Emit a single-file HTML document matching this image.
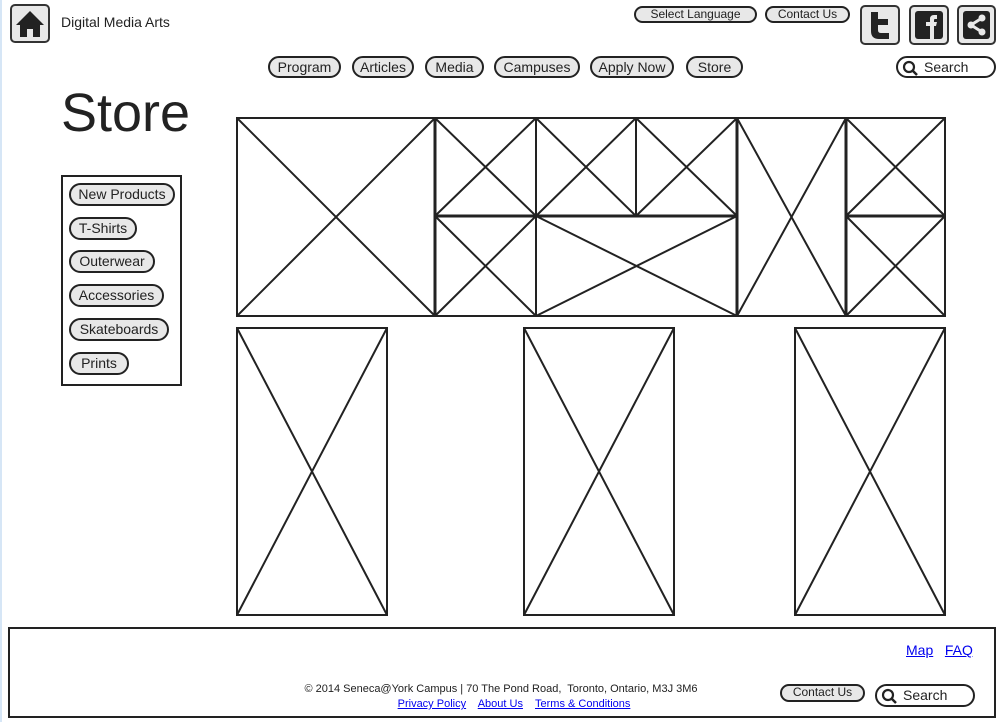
<!DOCTYPE html>
<html><head><style>
body{margin:0;width:1004px;height:722px;background:#fff;position:relative;overflow:hidden;font-family:"Liberation Sans",sans-serif;color:#222}
.a{position:absolute;box-sizing:border-box}
.p{position:absolute;box-sizing:border-box;border:2px solid #222;background:#e8e8e8;border-radius:12px;font-size:14px;text-align:center;line-height:19px;color:#222}
.s{font-size:12px;line-height:13px;border-radius:9px}
.ic{position:absolute;box-sizing:border-box;border:2px solid #333;border-radius:5px;background:#e8e8e8}
a{color:#00e;text-decoration:underline}
</style></head><body>
<div class="a" style="left:0;top:0;width:2px;height:722px;background:#d6e6f6"></div>
<div class="ic" style="left:10px;top:4px;width:40px;height:39px">
<svg width="36" height="35" viewBox="0 0 36 35"><path d="M18 5 L4 19 H8 V31 H15 V23 H21 V31 H28 V19 H32 Z" fill="#222"/></svg></div>
<div class="a" style="left:61px;top:14px;font-size:14px">Digital Media Arts</div>
<div class="p s" style="left:634px;top:6px;width:123px;height:17px">Select Language</div>
<div class="p s" style="left:765px;top:6px;width:85px;height:17px">Contact Us</div>
<div class="ic" style="left:860px;top:5px;width:40px;height:40px"><svg width="36" height="36"><path d="M9 5 H16 V12 H26 V18 H16 V23 Q16 26 19 26 H27 V32 H17 Q9 32 9 24 Z" fill="#222"/></svg></div>
<div class="ic" style="left:909px;top:5px;width:40px;height:40px"><svg width="36" height="36"><rect x="4" y="4" width="28" height="28" rx="3" fill="#222"/><path d="M19 32 V19 H15 V15 H19 V12 Q19 8 23 8 H26 V12 H24 Q23 12 23 13 V15 H26 L25 19 H23 V32 Z" fill="#e8e8e8"/></svg></div>
<div class="ic" style="left:957px;top:5px;width:39px;height:40px"><svg width="35" height="36"><rect x="4" y="4" width="27" height="28" rx="3" fill="#222"/><path d="M23 11 L12 18 L23 25" stroke="#e8e8e8" stroke-width="3" fill="none"/><circle cx="23" cy="11" r="3.5" fill="#e8e8e8"/><circle cx="12" cy="18" r="3.5" fill="#e8e8e8"/><circle cx="23" cy="25" r="3.5" fill="#e8e8e8"/></svg></div>
<div class="p" style="left:268px;top:56px;width:73px;height:22px">Program</div>
<div class="p" style="left:352px;top:56px;width:62px;height:22px">Articles</div>
<div class="p" style="left:425px;top:56px;width:59px;height:22px">Media</div>
<div class="p" style="left:494px;top:56px;width:86px;height:22px">Campuses</div>
<div class="p" style="left:590px;top:56px;width:84px;height:22px">Apply Now</div>
<div class="p" style="left:686px;top:56px;width:57px;height:22px">Store</div>
<div class="p" style="left:896px;top:56px;width:100px;height:22px;background:#fff;text-align:left;padding-left:26px">Search
<svg style="position:absolute;left:4px;top:2px" width="16" height="16"><circle cx="7" cy="7" r="5" stroke="#222" stroke-width="2.2" fill="none"/><path d="M10.5 10.5 L15 15" stroke="#222" stroke-width="2.5"/></svg></div>
<div class="a" style="left:61px;top:82px;font-size:54px;line-height:62px">Store</div>
<div class="a" style="left:61px;top:175px;width:121px;height:211px;border:2px solid #222"></div>
<div class="p" style="left:69px;top:183px;width:106px;height:23px">New Products</div>
<div class="p" style="left:69px;top:217px;width:68px;height:23px">T-Shirts</div>
<div class="p" style="left:69px;top:250px;width:86px;height:23px">Outerwear</div>
<div class="p" style="left:69px;top:284px;width:95px;height:23px">Accessories</div>
<div class="p" style="left:69px;top:318px;width:100px;height:23px">Skateboards</div>
<div class="p" style="left:69px;top:352px;width:60px;height:23px">Prints</div>
<svg class="a" style="left:0;top:0" width="1004" height="722">
<g stroke="#222" fill="none" stroke-width="2">
<rect x="237" y="118" width="198" height="198"/><path d="M237 118 L435 316 M435 118 L237 316"/>
<rect x="435" y="118" width="101" height="98"/><path d="M435 118 L536 216 M536 118 L435 216"/>
<rect x="536" y="118" width="100" height="98"/><path d="M536 118 L636 216 M636 118 L536 216"/>
<rect x="636" y="118" width="101" height="98"/><path d="M636 118 L737 216 M737 118 L636 216"/>
<rect x="435" y="216" width="101" height="100"/><path d="M435 216 L536 316 M536 216 L435 316"/>
<rect x="536" y="216" width="201" height="100"/><path d="M536 216 L737 316 M737 216 L536 316"/>
<rect x="737" y="118" width="109" height="198"/><path d="M737 118 L846 316 M846 118 L737 316"/>
<rect x="846" y="118" width="99" height="98"/><path d="M846 118 L945 216 M945 118 L846 216"/>
<rect x="846" y="216" width="99" height="100"/><path d="M846 216 L945 316 M945 216 L846 316"/>
<rect x="237" y="328" width="150" height="287"/><path d="M237 328 L387 615 M387 328 L237 615"/>
<rect x="524" y="328" width="150" height="287"/><path d="M524 328 L674 615 M674 328 L524 615"/>
<rect x="795" y="328" width="150" height="287"/><path d="M795 328 L945 615 M945 328 L795 615"/>
</g>
<g stroke="#222" stroke-width="3"><path d="M435 118 V316 M737 118 V316 M846 118 V316 M435 216 H737 M846 216 H945"/></g>
</svg>
<div class="a" style="left:8px;top:627px;width:988px;height:91px;border:2px solid #222"></div>
<div class="a" style="left:906px;top:642px;font-size:14px"><a>Map</a>&nbsp;&nbsp; <a>FAQ</a></div>
<div class="a" style="left:280px;top:683px;width:442px;text-align:center;font-size:11px">© 2014 Seneca@York Campus | 70 The Pond Road,&nbsp; Toronto, Ontario, M3J 3M6</div>
<div class="a" style="left:293px;top:698px;width:442px;text-align:center;font-size:11px"><a>Privacy Policy</a>&nbsp;&nbsp;&nbsp; <a>About Us</a>&nbsp;&nbsp;&nbsp; <a>Terms &amp; Conditions</a></div>
<div class="p s" style="left:780px;top:684px;width:85px;height:18px">Contact Us</div>
<div class="p" style="left:875px;top:684px;width:100px;height:23px;background:#fff;text-align:left;padding-left:26px">Search
<svg style="position:absolute;left:4px;top:2px" width="16" height="16"><circle cx="7" cy="7" r="5" stroke="#222" stroke-width="2.2" fill="none"/><path d="M10.5 10.5 L15 15" stroke="#222" stroke-width="2.5"/></svg></div>
</body></html>
